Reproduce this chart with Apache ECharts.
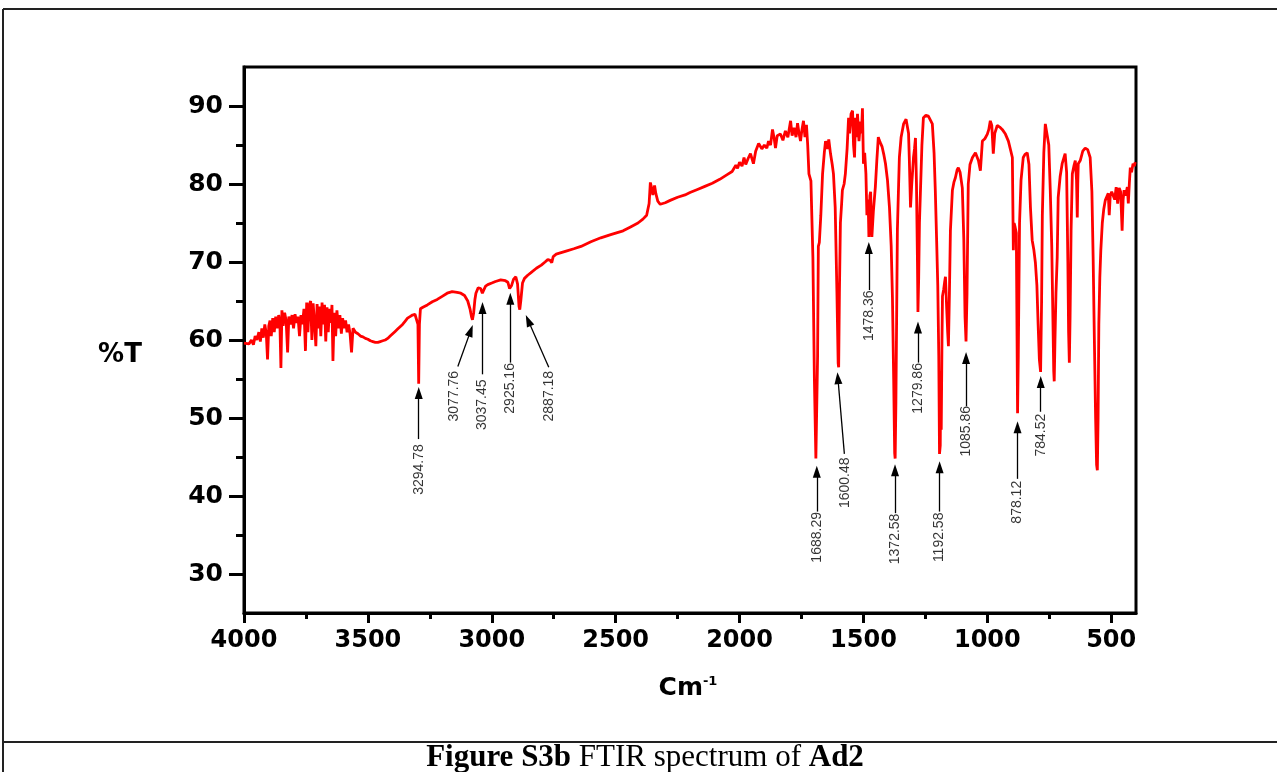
<!DOCTYPE html>
<html>
<head>
<meta charset="utf-8">
<script src="https://cdn.jsdelivr.net/npm/echarts@6/dist/echarts.min.js"></script>
<style>
html,body{margin:0;padding:0;background:#fff;}
#chart{width:1277px;height:772px;}
</style>
</head>
<body>
<div id="chart"></div>
<script>
// ---- data ----
const wavenumber = [
4000,3992,3980,3970,3962,3955,3948,3940,3934,3928,3922,3916,3910,3905,3900,3895,3890,3884,3878,3872,
3866,3860,3855,3851,3847,3842,3836,3830,3824,3819,3812,3806,3800,3794,3788,3782,3776,3770,3764,3758,
3752,3747,3742,3737,3731,3726,3721,3716,3710,3705,3700,3695,3690,3685,3680,3675,3670,3665,3660,3655,
3649,3645,3641,3636,3630,3625,3619,3613,3607,3602,3596,3590,3584,3578,3572,3566,3560,3550,3540,3530,
3520,3510,3500,3490,3480,3470,3460,3450,3440,3430,3420,3410,3400,3390,3380,3370,3360,3350,3340,3330,
3320,3310,3302,3298,3295,3292,3288,3278,3260,3240,3220,3200,3180,3160,3140,3125,3110,3097,3088,3082,
3078,3073,3068,3064,3055,3045,3038,3034,3025,3016,3000,2985,2964,2945,2935,2928,2925,2920,2912,2903,
2896,2890,2887,2883,2876,2868,2855,2843,2820,2800,2785,2774,2764,2758,2752,2740,2720,2700,2669,2640,
2600,2560,2520,2500,2470,2440,2410,2390,2375,2365,2360,2355,2350,2343,2338,2330,2320,2300,2280,2250,
2220,2200,2170,2140,2110,2080,2050,2030,2015,2008,2000,1990,1982,1975,1965,1956,1944,1935,1923,1910,
1900,1890,1883,1875,1867,1860,1855,1848,1835,1825,1815,1805,1794,1788,1780,1772,1766,1760,1754,1748,
1742,1736,1730,1725,1720,1712,1704,1698,1692,1688,1685,1682,1678,1672,1665,1658,1653,1646,1640,1633,
1626,1621,1614,1607,1602,1600,1597,1593,1588,1585,1578,1573,1566,1560,1556,1550,1544,1540,1536,1532,
1528,1524,1518,1512,1508,1504,1500,1495,1490,1486,1481,1478,1474,1471,1468,1466,1460,1452,1446,1440,
1436,1432,1425,1418,1411,1403,1395,1388,1383,1378,1374,1372,1369,1366,1363,1358,1355,1348,1338,1328,
1323,1318,1315,1310,1305,1298,1294,1290,1286,1282,1280,1277,1274,1270,1264,1258,1248,1238,1230,1222,
1215,1210,1204,1200,1196,1193,1190,1188,1186,1183,1181,1176,1172,1169,1164,1160,1157,1153,1149,1141,
1135,1129,1122,1117,1110,1101,1095,1090,1086,1082,1077,1070,1060,1048,1036,1028,1020,1010,1000,994,
988,982,976,970,960,950,940,927,915,905,899,895,892,888,883,880,878,875,870,864,
855,848,839,832,826,819,812,806,800,795,790,785,781,778,772,766,758,752,746,740,
736,732,730,727,723,718,714,706,698,686,680,675,672,669,666,662,657,650,645,640,
637,635,633,625,615,605,595,585,578,573,568,563,559,556,553,550,546,542,536,530,
524,518,512,508,504,498,492,486,480,474,468,462,456,452,448,442,435,431,427,423,
418,412,407,403
];
const transmittance = [
59.6,59.7,59.5,60.0,59.4,60.5,60.0,61.0,59.8,61.5,60.3,62.0,60.8,57.5,61.8,62.5,60.5,62.8,61.0,63.0,
61.5,63.2,62.0,56.4,63.8,61.8,63.5,62.5,58.4,63.0,62.0,63.2,61.5,63.3,62.2,63.0,60.5,63.2,62.0,64.0,
58.6,64.8,61.0,64.5,65.0,60.0,64.7,62.5,59.2,64.6,61.5,64.3,60.5,64.8,62.0,64.5,59.8,64.2,61.0,64.0,
62.2,64.5,57.3,63.5,60.5,63.8,61.5,63.2,60.8,62.8,61.5,62.5,61.0,62.0,60.8,58.4,61.5,61.0,60.8,60.5,
60.4,60.2,60.1,59.9,59.8,59.7,59.7,59.8,59.9,60.0,60.2,60.5,60.8,61.1,61.4,61.7,62.0,62.4,62.8,63.0,
63.2,63.3,63.5,62.0,54.4,62.0,64.0,64.2,64.5,64.9,65.2,65.6,66.0,66.2,66.1,66.0,65.7,65.0,64.0,63.0,
62.6,63.5,65.2,66.0,66.7,66.6,66.0,66.3,66.9,67.1,67.3,67.5,67.7,67.6,67.4,66.6,66.4,67.0,67.8,68.1,
67.2,64.3,63.9,65.0,67.3,67.9,68.3,68.6,69.2,69.6,70.0,70.3,70.2,69.9,70.7,71.0,71.2,71.4,71.7,72.0,
72.6,73.1,73.5,73.7,74.0,74.5,75.0,75.5,76.0,77.5,80.2,79.5,78.6,79.8,78.8,77.8,77.4,77.6,77.9,78.3,
78.6,78.9,79.3,79.7,80.1,80.6,81.2,81.6,82.4,82.0,82.8,82.3,83.4,82.5,83.3,83.9,82.6,84.2,85.2,84.5,
85.0,84.6,85.5,85.0,87.0,85.8,84.6,86.2,86.4,85.6,86.8,86.0,88.1,86.2,87.2,86.0,87.8,86.5,85.5,87.0,
88.1,86.0,87.6,85.0,81.3,80.4,70.6,55.0,44.8,44.6,58.0,72.0,72.5,76.0,81.3,84.0,85.5,84.5,85.7,83.9,
82.5,81.3,77.0,66.0,57.0,56.5,66.0,75.0,77.5,79.2,80.0,81.3,84.5,88.5,86.5,89.0,89.4,85.0,83.4,88.5,
86.0,89.0,85.5,88.0,86.5,89.7,82.6,84.0,81.3,76.0,78.0,73.2,78.5,79.0,75.0,73.2,76.5,79.6,83.0,86.0,
85.6,85.3,84.8,83.8,82.6,80.5,77.0,72.0,65.5,55.0,45.5,44.8,52.0,63.0,74.1,80.0,83.4,86.0,87.7,88.3,
88.5,86.5,83.4,77.0,80.0,83.4,84.5,85.9,80.0,70.0,63.6,68.0,75.0,79.0,85.0,88.5,88.8,88.7,88.5,87.7,
84.0,79.2,72.0,67.0,58.0,45.4,46.5,56.0,48.5,60.0,65.6,66.5,67.5,68.1,64.0,61.0,59.2,66.0,74.0,79.2,
80.2,80.8,81.8,82.1,81.5,79.5,73.0,63.0,59.8,66.0,80.0,82.5,83.4,84.0,83.0,81.7,85.5,85.8,86.4,87.0,
88.1,87.5,83.9,86.5,87.5,87.3,87.0,86.4,85.5,84.2,83.4,71.5,75.0,74.5,73.7,60.0,50.6,58.0,75.0,80.5,
83.4,83.8,84.0,82.5,77.0,72.8,71.5,69.9,67.0,62.0,57.5,55.9,65.0,76.0,84.0,87.7,87.8,85.0,79.2,72.0,
64.0,56.0,54.7,60.0,66.0,70.6,78.3,81.0,82.6,83.9,81.5,70.0,61.0,57.1,63.0,74.0,81.3,82.4,83.0,80.5,
75.7,80.0,82.6,83.0,84.2,84.6,84.4,83.4,79.0,70.6,60.0,50.0,44.0,43.3,50.0,62.0,68.0,71.5,75.0,76.8,
77.9,77.8,78.8,76.0,78.5,79.0,79.2,78.0,79.6,77.5,79.5,79.0,74.0,78.0,79.2,78.5,79.6,77.5,80.0,82.1,
81.5,82.6,82.3,82.8
];

// tick labels
const xMajorTicks = [4000, 3500, 3000, 2500, 2000, 1500, 1000, 500];
const xMinorTicks = [3750, 3250, 2750, 2250, 1750, 1250, 750];
const yMajorTicks = [30, 40, 50, 60, 70, 80, 90];
const yMinorTicks = [35, 45, 55, 65, 75, 85];

// peak annotations (data coordinates)
const peakLabels   = ['3294.78','3077.76','3037.45','2925.16','2887.18','1688.29','1600.48','1478.36','1372.58','1279.86','1192.58','1085.86','878.12','784.52'];
const arrowHeadWn  = [3294.78, 3085, 3037.45, 2925.16, 2853, 1688.29, 1603, 1478.36, 1372.58, 1279.86, 1192.58, 1085.86, 878.12, 784.52];
const arrowHeadT   = [53.2, 61.2, 64.1, 65.3, 62.5, 43.1, 55.1, 71.8, 43.3, 61.6, 43.7, 57.7, 48.8, 54.6];
const arrowTailWn  = [3294.78, 3137, 3037.45, 2925.16, 2770, 1688.29, 1577, 1478.36, 1372.58, 1279.86, 1192.58, 1085.86, 878.12, 784.52];
const arrowTailT   = [47.3, 56.6, 55.6, 57.1, 56.5, 38.0, 45.4, 66.4, 37.8, 57.1, 38.0, 51.5, 42.2, 50.8];
const labelWn      = [3294.78, 3152, 3037.45, 2925.16, 2770, 1688.29, 1575, 1478.36, 1372.58, 1279.86, 1192.58, 1085.86, 878.12, 784.52];
const labelT       = [43.4, 52.8, 51.7, 53.8, 52.8, 34.7, 41.7, 63.1, 34.5, 53.8, 34.7, 48.3, 39.2, 47.8];

const chart = echarts.init(document.getElementById('chart'), null, {renderer: 'canvas'});

const axisFont = {fontFamily: 'DejaVu Sans', fontWeight: 'bold', fontSize: 24, color: '#000'};

const option = {
  animation: false,
  backgroundColor: '#fff',
  grid: {left: 244, top: 67, right: 141, bottom: 159, show: true, borderColor: '#000', borderWidth: 3, containLabel: false},
  xAxis: [
    {
      type: 'value', min: 400, max: 4000, inverse: true, position: 'bottom',
      axisLine: {show: true, lineStyle: {color: '#000', width: 3}},
      axisTick: {show: true, length: 10, lineStyle: {color: '#000', width: 3}, customValues: xMajorTicks},
      axisLabel: Object.assign({show: true, margin: 16, customValues: xMajorTicks, formatter: v => String(v)}, axisFont),
      splitLine: {show: false}
    },
    {
      type: 'value', min: 400, max: 4000, inverse: true, position: 'bottom',
      axisLine: {show: false},
      axisTick: {show: true, length: 6, lineStyle: {color: '#000', width: 3}, customValues: xMinorTicks},
      axisLabel: {show: false},
      splitLine: {show: false}
    }
  ],
  yAxis: [
    {
      type: 'value', min: 25, max: 95, position: 'left',
      axisLine: {show: true, lineStyle: {color: '#000', width: 3}},
      axisTick: {show: true, length: 15, lineStyle: {color: '#000', width: 3}, customValues: yMajorTicks},
      axisLabel: Object.assign({show: true, margin: 21, customValues: yMajorTicks, formatter: v => String(v)}, axisFont, {fontSize: 25}),
      splitLine: {show: false}
    },
    {
      type: 'value', min: 25, max: 95, position: 'left',
      axisLine: {show: false},
      axisTick: {show: true, length: 8, lineStyle: {color: '#000', width: 3}, customValues: yMinorTicks},
      axisLabel: {show: false},
      splitLine: {show: false}
    }
  ],
  series: [
    {
      type: 'line',
      xAxisIndex: 0, yAxisIndex: 0,
      data: wavenumber.map((w, i) => [w, transmittance[i]]),
      showSymbol: false,
      symbol: 'none',
      lineStyle: {color: '#ff0000', width: 2.8},
      z: 3
    },
    {
      type: 'line',
      xAxisIndex: 0, yAxisIndex: 0,
      data: [],
      markLine: {
        silent: true,
        animation: false,
        symbol: ['none', 'triangle'],
        symbolSize: [8, 12],
        lineStyle: {color: '#000', width: 1.3, type: 'solid'},
        label: {show: false},
        data: peakLabels.map((p, i) => [
          {coord: [arrowTailWn[i], arrowTailT[i]]},
          {coord: [arrowHeadWn[i], arrowHeadT[i]]}
        ])
      },
      z: 4
    },
    {
      type: 'scatter',
      xAxisIndex: 0, yAxisIndex: 0,
      symbolSize: 0,
      data: peakLabels.map((p, i) => ({name: p, value: [labelWn[i], labelT[i]]})),
      label: {
        show: true, formatter: '{b}', rotate: 90, position: 'inside',
        align: 'center', verticalAlign: 'middle',
        fontFamily: 'Liberation Sans', fontSize: 14, color: '#000'
      },
      z: 5
    }
  ],
  graphic: [
    {type: 'line', shape: {x1: 3, y1: 9, x2: 1277, y2: 9}, style: {stroke: '#222', lineWidth: 2}},
    {type: 'line', shape: {x1: 3, y1: 9, x2: 3, y2: 772}, style: {stroke: '#222', lineWidth: 2}},
    {type: 'line', shape: {x1: 3, y1: 742, x2: 1277, y2: 742}, style: {stroke: '#222', lineWidth: 2}},
    {type: 'text', x: 120, y: 355, style: {text: '%T', fontFamily: 'DejaVu Sans', fontWeight: 'bold', fontSize: 26, fill: '#000', textAlign: 'center', textVerticalAlign: 'middle'}},
    {type: 'text', x: 688, y: 688, style: {
      text: '{m|Cm}{s|-1}', textAlign: 'center', textVerticalAlign: 'middle', fill: '#000',
      rich: {
        m: {fontFamily: 'DejaVu Sans', fontWeight: 'bold', fontSize: 25, fill: '#000'},
        s: {fontFamily: 'DejaVu Sans', fontWeight: 'bold', fontSize: 13, verticalAlign: 'top', fill: '#000'}
      }
    }},
    {type: 'text', x: 645, y: 758, style: {
      text: '{b|Figure S3b} FTIR spectrum of {b|Ad2}', textAlign: 'center', textVerticalAlign: 'middle',
      fontFamily: 'Liberation Serif', fontSize: 31, fill: '#000',
      rich: {b: {fontFamily: 'Liberation Serif', fontWeight: 'bold', fontSize: 31, fill: '#000'}}
    }}
  ]
};
chart.setOption(option);
</script>
</body>
</html>
